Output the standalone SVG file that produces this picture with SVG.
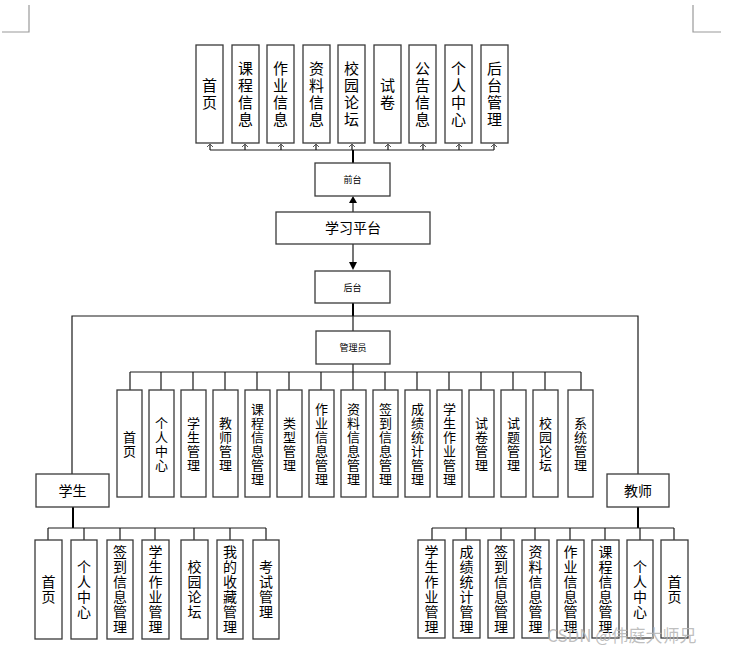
<svg xmlns="http://www.w3.org/2000/svg" width="734" height="655" viewBox="0 0 734 655">
<style>
.b{fill:#fff;stroke:#3a3a3a;stroke-width:1.3}
.t{font-family:"Noto Sans CJK SC","Liberation Sans",sans-serif;fill:#000;text-anchor:middle}
.t15{font-size:15px}.t14{font-size:14px}.t13{font-size:13px}.t9{font-size:9px}
.c{fill:none;stroke:#1a1a1a;stroke-width:1.2}
.k{fill:none;stroke:#000;stroke-width:2}
.m{fill:none;stroke:#9a9a9a;stroke-width:1.2}
.a{fill:none;stroke:#555;stroke-width:1}
.wm{font-family:"Noto Sans CJK SC","Liberation Sans",sans-serif;font-size:17px;fill:#b4b4b4;fill-opacity:0.85}
</style>
<rect width="734" height="655" fill="#fff"/>
<path class="m" d="M29 5 V32 H2 M693 5 V32 H721"/>

<g id="connectors">
<path class="c" d="M210 150 H494"/>
<path class="c" d="M210 150 V144 M245 150 V144 M281 150 V144 M316 150 V144 M352 150 V144 M388 150 V144 M423 150 V144 M459 150 V144 M494 150 V144"/>
<path class="a" d="M207 147 L210 144 L213 147 M242 147 L245 144 L248 147 M278 147 L281 144 L284 147 M313 147 L316 144 L319 147 M349 147 L352 144 L355 147 M385 147 L388 144 L391 147 M420 147 L423 144 L426 147 M456 147 L459 144 L462 147 M491 147 L494 144 L497 147"/>
<path class="k" d="M353 150 V163"/>
<path d="M353 212 V202" class="c"/>
<path d="M349 203 L353 196 L357 203 Z" fill="#000"/>
<path d="M353 244 V263" class="c"/>
<path d="M349 262 L353 270 L357 262 Z" fill="#000"/>
<path class="k" d="M353 303 V316"/>
<path class="c" d="M72 474 V316 H638 V474"/>
<path class="c" d="M353 316 V331"/>
<path class="c" d="M353 364 V372 M130 372 H581"/>
<path class="c" d="M130 372 V390 M161 372 V390 M193 372 V390 M225 372 V390 M257 372 V390 M289 372 V390 M321 372 V390 M353 372 V390 M385 372 V390 M417 372 V390 M449 372 V390 M481 372 V390 M513 372 V390 M545 372 V390 M581 372 V390"/>
<path class="k" d="M73 507 V528"/>
<path class="c" d="M48 528 H266 M48 528 V540 M84 528 V540 M120 528 V540 M155 528 V540 M194 528 V540 M230 528 V540 M266 528 V540"/>
<path class="k" d="M638 507 V528"/>
<path class="c" d="M432 528 H674 M432 528 V540 M466 528 V540 M501 528 V540 M535 528 V540 M570 528 V540 M605 528 V540 M640 528 V540 M674 528 V540"/>
</g>

<!-- top row -->
<g id="top-home"><rect class="b" x="196" y="45" width="27" height="98"/><text class="t t15" y="91"><tspan x="209.5">首</tspan><tspan x="209.5" dy="17">页</tspan></text></g>
<g id="top-course"><rect class="b" x="232" y="45" width="27" height="98"/><text class="t t15" y="74"><tspan x="245.5">课</tspan><tspan x="245.5" dy="17">程</tspan><tspan x="245.5" dy="17">信</tspan><tspan x="245.5" dy="17">息</tspan></text></g>
<g id="top-homework"><rect class="b" x="267" y="45" width="27" height="98"/><text class="t t15" y="74"><tspan x="280.5">作</tspan><tspan x="280.5" dy="17">业</tspan><tspan x="280.5" dy="17">信</tspan><tspan x="280.5" dy="17">息</tspan></text></g>
<g id="top-material"><rect class="b" x="303" y="45" width="27" height="98"/><text class="t t15" y="74"><tspan x="316.5">资</tspan><tspan x="316.5" dy="17">料</tspan><tspan x="316.5" dy="17">信</tspan><tspan x="316.5" dy="17">息</tspan></text></g>
<g id="top-forum"><rect class="b" x="338" y="45" width="27" height="98"/><text class="t t15" y="74"><tspan x="351.5">校</tspan><tspan x="351.5" dy="17">园</tspan><tspan x="351.5" dy="17">论</tspan><tspan x="351.5" dy="17">坛</tspan></text></g>
<g id="top-exam"><rect class="b" x="374" y="45" width="27" height="98"/><text class="t t15" y="91"><tspan x="387.5">试</tspan><tspan x="387.5" dy="17">卷</tspan></text></g>
<g id="top-notice"><rect class="b" x="409" y="45" width="27" height="98"/><text class="t t15" y="74"><tspan x="422.5">公</tspan><tspan x="422.5" dy="17">告</tspan><tspan x="422.5" dy="17">信</tspan><tspan x="422.5" dy="17">息</tspan></text></g>
<g id="top-personal"><rect class="b" x="445" y="45" width="27" height="98"/><text class="t t15" y="74"><tspan x="458.5">个</tspan><tspan x="458.5" dy="17">人</tspan><tspan x="458.5" dy="17">中</tspan><tspan x="458.5" dy="17">心</tspan></text></g>
<g id="top-backend"><rect class="b" x="481" y="45" width="27" height="98"/><text class="t t15" y="74"><tspan x="494.5">后</tspan><tspan x="494.5" dy="17">台</tspan><tspan x="494.5" dy="17">管</tspan><tspan x="494.5" dy="17">理</tspan></text></g>

<!-- center -->
<g id="frontend"><rect class="b" x="315" y="163" width="75" height="33"/><text class="t t9" x="352.5" y="183">前台</text></g>
<g id="platform"><rect class="b" x="276" y="212" width="154" height="32"/><text class="t t14" x="353" y="233">学习平台</text></g>
<g id="backend"><rect class="b" x="315" y="271" width="75" height="32"/><text class="t t9" x="352.5" y="290.5">后台</text></g>
<g id="admin"><rect class="b" x="316" y="331" width="74" height="33"/><text class="t t9" x="353" y="351">管理员</text></g>
<g id="student"><rect class="b" x="36" y="474" width="73" height="33"/><text class="t t14" x="72.5" y="495.5">学生</text></g>
<g id="teacher"><rect class="b" x="607" y="474" width="62" height="33"/><text class="t t14" x="638" y="495.5">教师</text></g>

<!-- admin row -->
<g id="a1"><rect class="b" x="117" y="390" width="25" height="107"/><text class="t t13" y="441.5"><tspan x="129.5">首</tspan><tspan x="129.5" dy="14">页</tspan></text></g>
<g id="a2"><rect class="b" x="149" y="390" width="25" height="107"/><text class="t t13" y="427.5"><tspan x="161.5">个</tspan><tspan x="161.5" dy="14">人</tspan><tspan x="161.5" dy="14">中</tspan><tspan x="161.5" dy="14">心</tspan></text></g>
<g id="a3"><rect class="b" x="181" y="390" width="25" height="107"/><text class="t t13" y="427.5"><tspan x="193.5">学</tspan><tspan x="193.5" dy="14">生</tspan><tspan x="193.5" dy="14">管</tspan><tspan x="193.5" dy="14">理</tspan></text></g>
<g id="a4"><rect class="b" x="213" y="390" width="25" height="107"/><text class="t t13" y="427.5"><tspan x="225.5">教</tspan><tspan x="225.5" dy="14">师</tspan><tspan x="225.5" dy="14">管</tspan><tspan x="225.5" dy="14">理</tspan></text></g>
<g id="a5"><rect class="b" x="245" y="390" width="25" height="107"/><text class="t t13" y="413.5"><tspan x="257.5">课</tspan><tspan x="257.5" dy="14">程</tspan><tspan x="257.5" dy="14">信</tspan><tspan x="257.5" dy="14">息</tspan><tspan x="257.5" dy="14">管</tspan><tspan x="257.5" dy="14">理</tspan></text></g>
<g id="a6"><rect class="b" x="277" y="390" width="25" height="107"/><text class="t t13" y="427.5"><tspan x="289.5">类</tspan><tspan x="289.5" dy="14">型</tspan><tspan x="289.5" dy="14">管</tspan><tspan x="289.5" dy="14">理</tspan></text></g>
<g id="a7"><rect class="b" x="309" y="390" width="25" height="107"/><text class="t t13" y="413.5"><tspan x="321.5">作</tspan><tspan x="321.5" dy="14">业</tspan><tspan x="321.5" dy="14">信</tspan><tspan x="321.5" dy="14">息</tspan><tspan x="321.5" dy="14">管</tspan><tspan x="321.5" dy="14">理</tspan></text></g>
<g id="a8"><rect class="b" x="341" y="390" width="25" height="107"/><text class="t t13" y="413.5"><tspan x="353.5">资</tspan><tspan x="353.5" dy="14">料</tspan><tspan x="353.5" dy="14">信</tspan><tspan x="353.5" dy="14">息</tspan><tspan x="353.5" dy="14">管</tspan><tspan x="353.5" dy="14">理</tspan></text></g>
<g id="a9"><rect class="b" x="373" y="390" width="25" height="107"/><text class="t t13" y="413.5"><tspan x="385.5">签</tspan><tspan x="385.5" dy="14">到</tspan><tspan x="385.5" dy="14">信</tspan><tspan x="385.5" dy="14">息</tspan><tspan x="385.5" dy="14">管</tspan><tspan x="385.5" dy="14">理</tspan></text></g>
<g id="a10"><rect class="b" x="405" y="390" width="25" height="107"/><text class="t t13" y="413.5"><tspan x="417.5">成</tspan><tspan x="417.5" dy="14">绩</tspan><tspan x="417.5" dy="14">统</tspan><tspan x="417.5" dy="14">计</tspan><tspan x="417.5" dy="14">管</tspan><tspan x="417.5" dy="14">理</tspan></text></g>
<g id="a11"><rect class="b" x="437" y="390" width="25" height="107"/><text class="t t13" y="413.5"><tspan x="449.5">学</tspan><tspan x="449.5" dy="14">生</tspan><tspan x="449.5" dy="14">作</tspan><tspan x="449.5" dy="14">业</tspan><tspan x="449.5" dy="14">管</tspan><tspan x="449.5" dy="14">理</tspan></text></g>
<g id="a12"><rect class="b" x="469" y="390" width="25" height="107"/><text class="t t13" y="427.5"><tspan x="481.5">试</tspan><tspan x="481.5" dy="14">卷</tspan><tspan x="481.5" dy="14">管</tspan><tspan x="481.5" dy="14">理</tspan></text></g>
<g id="a13"><rect class="b" x="501" y="390" width="25" height="107"/><text class="t t13" y="427.5"><tspan x="513.5">试</tspan><tspan x="513.5" dy="14">题</tspan><tspan x="513.5" dy="14">管</tspan><tspan x="513.5" dy="14">理</tspan></text></g>
<g id="a14"><rect class="b" x="533" y="390" width="25" height="107"/><text class="t t13" y="427.5"><tspan x="545.5">校</tspan><tspan x="545.5" dy="14">园</tspan><tspan x="545.5" dy="14">论</tspan><tspan x="545.5" dy="14">坛</tspan></text></g>
<g id="a15"><rect class="b" x="568" y="390" width="25" height="107"/><text class="t t13" y="427.5"><tspan x="580.5">系</tspan><tspan x="580.5" dy="14">统</tspan><tspan x="580.5" dy="14">管</tspan><tspan x="580.5" dy="14">理</tspan></text></g>

<!-- student row -->
<g id="s1"><rect class="b" x="35" y="540" width="27" height="99"/><text class="t t14" y="587"><tspan x="48.5">首</tspan><tspan x="48.5" dy="15">页</tspan></text></g>
<g id="s2"><rect class="b" x="71" y="540" width="26" height="99"/><text class="t t14" y="572"><tspan x="84">个</tspan><tspan x="84" dy="15">人</tspan><tspan x="84" dy="15">中</tspan><tspan x="84" dy="15">心</tspan></text></g>
<g id="s3"><rect class="b" x="107" y="540" width="26" height="99"/><text class="t t14" y="557"><tspan x="120">签</tspan><tspan x="120" dy="15">到</tspan><tspan x="120" dy="15">信</tspan><tspan x="120" dy="15">息</tspan><tspan x="120" dy="15">管</tspan><tspan x="120" dy="15">理</tspan></text></g>
<g id="s4"><rect class="b" x="142" y="540" width="27" height="99"/><text class="t t14" y="557"><tspan x="155.5">学</tspan><tspan x="155.5" dy="15">生</tspan><tspan x="155.5" dy="15">作</tspan><tspan x="155.5" dy="15">业</tspan><tspan x="155.5" dy="15">管</tspan><tspan x="155.5" dy="15">理</tspan></text></g>
<g id="s5"><rect class="b" x="181" y="540" width="27" height="99"/><text class="t t14" y="572"><tspan x="194.5">校</tspan><tspan x="194.5" dy="15">园</tspan><tspan x="194.5" dy="15">论</tspan><tspan x="194.5" dy="15">坛</tspan></text></g>
<g id="s6"><rect class="b" x="217" y="540" width="26" height="99"/><text class="t t14" y="557"><tspan x="230">我</tspan><tspan x="230" dy="15">的</tspan><tspan x="230" dy="15">收</tspan><tspan x="230" dy="15">藏</tspan><tspan x="230" dy="15">管</tspan><tspan x="230" dy="15">理</tspan></text></g>
<g id="s7"><rect class="b" x="253" y="540" width="26" height="99"/><text class="t t14" y="572"><tspan x="266">考</tspan><tspan x="266" dy="15">试</tspan><tspan x="266" dy="15">管</tspan><tspan x="266" dy="15">理</tspan></text></g>

<!-- teacher row -->
<g id="t1"><rect class="b" x="418" y="540" width="27" height="98"/><text class="t t14" y="557"><tspan x="431.5">学</tspan><tspan x="431.5" dy="15">生</tspan><tspan x="431.5" dy="15">作</tspan><tspan x="431.5" dy="15">业</tspan><tspan x="431.5" dy="15">管</tspan><tspan x="431.5" dy="15">理</tspan></text></g>
<g id="t2"><rect class="b" x="453" y="540" width="27" height="98"/><text class="t t14" y="557"><tspan x="466.5">成</tspan><tspan x="466.5" dy="15">绩</tspan><tspan x="466.5" dy="15">统</tspan><tspan x="466.5" dy="15">计</tspan><tspan x="466.5" dy="15">管</tspan><tspan x="466.5" dy="15">理</tspan></text></g>
<g id="t3"><rect class="b" x="488" y="540" width="26" height="98"/><text class="t t14" y="557"><tspan x="501">签</tspan><tspan x="501" dy="15">到</tspan><tspan x="501" dy="15">信</tspan><tspan x="501" dy="15">息</tspan><tspan x="501" dy="15">管</tspan><tspan x="501" dy="15">理</tspan></text></g>
<g id="t4"><rect class="b" x="522" y="540" width="27" height="98"/><text class="t t14" y="557"><tspan x="535.5">资</tspan><tspan x="535.5" dy="15">料</tspan><tspan x="535.5" dy="15">信</tspan><tspan x="535.5" dy="15">息</tspan><tspan x="535.5" dy="15">管</tspan><tspan x="535.5" dy="15">理</tspan></text></g>
<g id="t5"><rect class="b" x="557" y="540" width="27" height="98"/><text class="t t14" y="557"><tspan x="570.5">作</tspan><tspan x="570.5" dy="15">业</tspan><tspan x="570.5" dy="15">信</tspan><tspan x="570.5" dy="15">息</tspan><tspan x="570.5" dy="15">管</tspan><tspan x="570.5" dy="15">理</tspan></text></g>
<g id="t6"><rect class="b" x="592" y="540" width="27" height="98"/><text class="t t14" y="557"><tspan x="605.5">课</tspan><tspan x="605.5" dy="15">程</tspan><tspan x="605.5" dy="15">信</tspan><tspan x="605.5" dy="15">息</tspan><tspan x="605.5" dy="15">管</tspan><tspan x="605.5" dy="15">理</tspan></text></g>
<g id="t7"><rect class="b" x="627" y="540" width="26" height="98"/><text class="t t14" y="572"><tspan x="640">个</tspan><tspan x="640" dy="15">人</tspan><tspan x="640" dy="15">中</tspan><tspan x="640" dy="15">心</tspan></text></g>
<g id="t8"><rect class="b" x="661" y="540" width="27" height="98"/><text class="t t14" y="587"><tspan x="674.5">首</tspan><tspan x="674.5" dy="15">页</tspan></text></g>

<text class="wm" x="547" y="642">CSDN @伟庭大师兄</text>
</svg>
